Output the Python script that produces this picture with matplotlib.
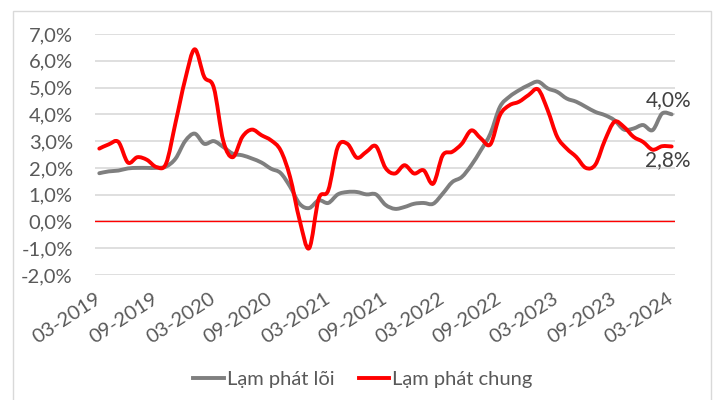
import matplotlib
matplotlib.use("Agg")
import matplotlib.pyplot as plt
import numpy as np
from matplotlib.patches import Rectangle, PathPatch
from matplotlib.path import Path
from matplotlib.lines import Line2D

plt.rcParams['font.family'] = ['Lato', 'DejaVu Sans']

# monthly series, 03-2019 .. 03-2024
core = [1.8, 1.87, 1.9, 1.98, 2.0, 2.0, 2.0, 2.05, 2.35, 3.0,
        3.28, 2.9, 3.0, 2.78, 2.53, 2.47, 2.35, 2.2, 1.97, 1.81,
        1.3, 0.66, 0.5, 0.79, 0.69, 1.01, 1.1, 1.1, 1.01, 1.01,
        0.62, 0.47, 0.54, 0.66, 0.69, 0.66, 1.04, 1.47, 1.66, 2.1,
        2.66, 3.28, 4.28, 4.66, 4.9, 5.09, 5.22, 4.97, 4.84, 4.59,
        4.47, 4.28, 4.09, 3.97, 3.78, 3.43, 3.47, 3.6, 3.41, 4.03, 4.0]
headline = [2.72, 2.88, 2.97, 2.2, 2.4, 2.3, 2.03, 2.16, 3.7, 5.3,
            6.43, 5.4, 5.0, 3.0, 2.4, 3.16, 3.43, 3.22, 3.03, 2.66,
            1.66, 0.05, -1.0, 0.85, 1.16, 2.78, 2.9, 2.38, 2.6, 2.81,
            2.0, 1.79, 2.1, 1.79, 1.91, 1.41, 2.47, 2.6, 2.9, 3.4,
            3.1, 2.88, 3.97, 4.34, 4.47, 4.72, 4.93, 4.16, 3.16, 2.72,
            2.41, 2.0, 2.12, 3.03, 3.72, 3.53, 3.16, 2.97, 2.68, 2.81, 2.8]
tick_labels = ['03-2019', '09-2019', '03-2020', '09-2020', '03-2021', '09-2021',
               '03-2022', '09-2022', '03-2023', '09-2023', '03-2024']
y_ticks = [-2, -1, 0, 1, 2, 3, 4, 5, 6, 7]

txt = '#595959'
gray = '#7f7f7f'
red = '#ff0000'
months = list(range(len(core)))


def smooth_path(x, y):
    # Excel-style smoothed line: bezier segments through every data point
    p = np.column_stack([x, y]).astype(float)
    ext = np.vstack([p[0], p, p[-1]])
    verts = [p[0]]
    codes = [Path.MOVETO]
    for i in range(len(p) - 1):
        c1 = p[i] + (ext[i + 2] - ext[i]) / 6
        c2 = p[i + 1] - (ext[i + 3] - ext[i + 1]) / 6
        verts += [c1, c2, p[i + 1]]
        codes += [Path.CURVE4] * 3
    return Path(verts, codes)


fig = plt.figure(figsize=(7.17, 4.0), dpi=100)
ax = fig.add_axes([95 / 717, 1 - 275 / 400, 580 / 717, 241 / 400])

for vals, col, z in [(core, gray, 3), (headline, red, 4)]:
    ax.add_patch(PathPatch(smooth_path(months, vals), facecolor='none',
                           edgecolor=col, lw=2.8, joinstyle='round',
                           capstyle='round', zorder=z))
ax.axhline(0, color=red, lw=1.0, zorder=2)

ax.set_xlim(-0.45, 60.35)
ax.set_ylim(-2, 7)
ax.set_yticks(y_ticks)
ax.set_yticklabels([f'{v:.1f}%'.replace('.', ',') for v in y_ticks])
ax.set_xticks(months[::6])
ax.set_xticklabels(tick_labels, rotation=33, ha='right', va='center',
                   rotation_mode='anchor')
ax.tick_params(axis='both', length=0, labelsize=14.5, colors=txt)
ax.tick_params(axis='x', pad=16)
ax.tick_params(axis='y', pad=16)
ax.grid(axis='y', color='#d9d9d9', lw=1.2)
ax.set_axisbelow(True)
for s in ax.spines.values():
    s.set_visible(False)

ax.annotate('4,0%', (months[-1], core[-1]), xytext=(-2, 10),
            textcoords='offset points', ha='center', va='center',
            fontsize=15, color='#404040')
ax.annotate('2,8%', (months[-1], headline[-1]), xytext=(-3, -10),
            textcoords='offset points', ha='center', va='center',
            fontsize=15, color='#404040')

handles = [Line2D([], [], color=gray, lw=2.8), Line2D([], [], color=red, lw=2.8)]
fig.legend(handles, ['Lạm phát lõi', 'Lạm phát chung'], loc='center',
           bbox_to_anchor=(0.506, 0.0525), ncol=2, frameon=False,
           fontsize=14.5, labelcolor=txt, handlelength=1.5, handletextpad=0.15,
           columnspacing=1.2)

fig.patches.append(Rectangle((12.5 / 717, -0.01), (710.7 - 12.5) / 717, 1 - 11 / 400 + 0.01,
                             transform=fig.transFigure, fill=False,
                             edgecolor='#d9d9d9', lw=1))

fig.savefig('out.png', dpi=100)
